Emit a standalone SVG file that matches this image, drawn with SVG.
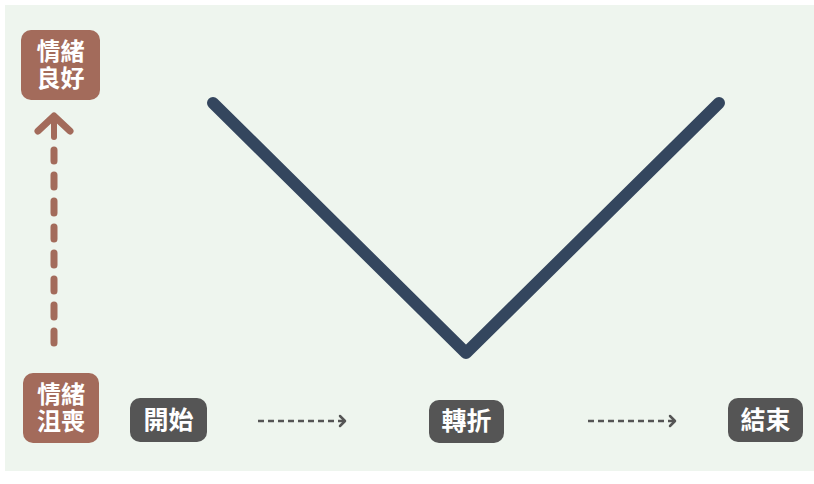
<svg xmlns="http://www.w3.org/2000/svg" width="814" height="484" viewBox="0 0 814 484">
<style>
.bg{fill:#eef5ee}
.brown{fill:#a36b5b}
.dark{fill:#555555}
.t{font-family:"Noto Sans CJK TC","Noto Sans CJK SC",sans-serif;font-weight:bold;fill:#ffffff;font-size:25px;text-anchor:middle}
.t2{font-size:24px}
.dash{stroke:#555555;stroke-width:2.5;stroke-dasharray:6 4;fill:none}
.head{stroke:#555555;stroke-width:2.5;fill:none;stroke-linecap:round;stroke-linejoin:round}
</style>
<rect class="bg" x="5" y="5" width="809" height="466"/>
<g id="connectors">
  <polyline points="213,103 466,353 719,103" fill="none" stroke="#34465e" stroke-width="12" stroke-linecap="round" stroke-linejoin="round"/>
  <line x1="54" y1="343" x2="54" y2="150" stroke="#a36b5b" stroke-width="7" stroke-linecap="round" stroke-dasharray="12 14"/>
  <polyline points="38,131 54,116 70,131" fill="none" stroke="#a36b5b" stroke-width="7" stroke-linecap="round" stroke-linejoin="round"/>
  <line x1="54" y1="118" x2="54" y2="137" stroke="#a36b5b" stroke-width="6" stroke-linecap="round"/>
  <line class="dash" x1="258" y1="421" x2="344" y2="421"/>
  <polyline class="head" points="340,416 345,421 340,426"/>
  <line class="dash" x1="588" y1="421" x2="674" y2="421"/>
  <polyline class="head" points="670,416 675,421 670,426"/>
</g>
<g id="node-good">
  <rect class="brown" x="21" y="30" width="79" height="70" rx="10"/>
  <text class="t t2" x="60.5" y="60"><tspan x="60.5" y="60">情緒</tspan><tspan x="60.5" y="87">良好</tspan></text>
</g>
<g id="node-bad">
  <rect class="brown" x="23" y="373" width="76" height="70" rx="10"/>
  <text class="t t2" x="61" y="403"><tspan x="61" y="403">情緒</tspan><tspan x="61" y="430">沮喪</tspan></text>
</g>
<g id="node-start">
  <rect class="dark" x="130" y="398" width="77" height="44" rx="10"/>
  <text class="t" x="168.5" y="429">開始</text>
</g>
<g id="node-turn">
  <rect class="dark" x="429" y="400" width="75" height="43" rx="10"/>
  <text class="t" x="466.5" y="430">轉折</text>
</g>
<g id="node-end">
  <rect class="dark" x="728" y="398" width="75" height="44" rx="10"/>
  <text class="t" x="765.5" y="429">結束</text>
</g>
</svg>
